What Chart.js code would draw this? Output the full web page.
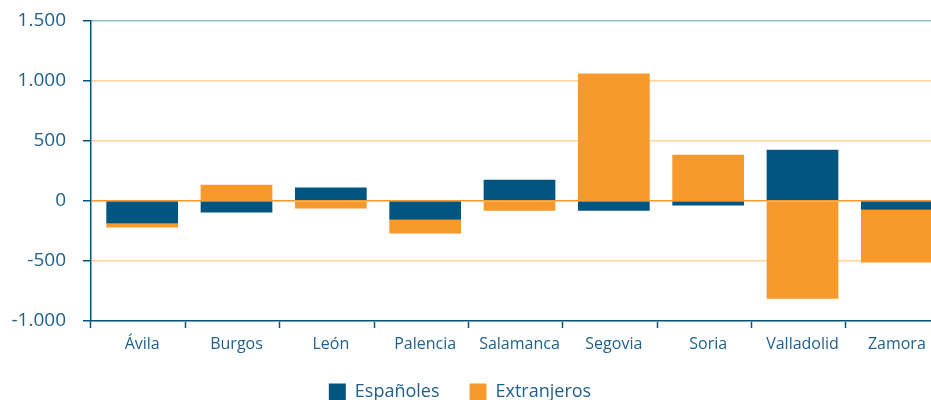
<!DOCTYPE html>
<html>
<head>
<meta charset="utf-8">
<script src="https://cdn.jsdelivr.net/npm/chart.js@4/dist/chart.umd.min.js"></script>
<style>
  html, body { margin: 0; padding: 0; background: #fff; overflow: hidden; }
  #wrap { width: 940px; height: 419px; position: relative; margin-top: -8px; }
</style>
</head>
<body>
<div id="wrap"><canvas id="saldoChart"></canvas></div>
<script>
const provincias = ["Ávila", "Burgos", "León", "Palencia", "Salamanca", "Segovia", "Soria", "Valladolid", "Zamora"];
const espanoles = [-190, -97, 111, -158, 175, -83, -39, 425, -75];
const extranjeros = [-33, 133, -64, -114, -83, 1058, 383, -814, -439];
const yTicks = [-1000, -500, 0, 500, 1000, 1500];

const azul = "#01557F";
const naranja = "#F7992B";
const texto = "#1F5F8B";

// legend sits a little left of centre in the original,
// and bars sit a few px right of the category centre
const ajustes = {
    id: 'ajustes',
    afterLayout: function (chart) {
        chart.legend.left -= 10;
        chart.legend.right -= 10;
    },
    afterDatasetsUpdate: function (chart) {
        chart.data.datasets.forEach(function (ds, i) {
            chart.getDatasetMeta(i).data.forEach(function (bar) { bar.x += 4; });
        });
    }
};

document.addEventListener("DOMContentLoaded", function () {
    const ctx = document.getElementById('saldoChart').getContext('2d');

    new Chart(ctx, {
        type: 'bar',
        data: {
            labels: provincias,
            datasets: [{
                label: "Españoles",
                data: espanoles,
                backgroundColor: azul,
                barPercentage: 0.76,
                categoryPercentage: 1
            }, {
                label: "Extranjeros",
                data: extranjeros,
                backgroundColor: naranja,
                barPercentage: 0.76,
                categoryPercentage: 1
            }]
        },
        plugins: [ajustes],
        options: {
            responsive: true,
            maintainAspectRatio: false,
            animation: false,
            layout: { padding: { top: 2, left: 0, right: 0, bottom: 0 } },
            plugins: {
                tooltip: { enabled: false },
                legend: {
                    position: 'bottom',
                    labels: {
                        color: texto,
                        font: { family: "Open Sans", size: 18 },
                        boxWidth: 17,
                        boxHeight: 17,
                        padding: 30
                    }
                }
            },
            scales: {
                x: {
                    stacked: true,
                    border: { color: azul, width: 1.5 },
                    grid: {
                        offset: true,
                        drawOnChartArea: false,
                        tickColor: azul,
                        tickLength: 7,
                        tickWidth: 1.5
                    },
                    ticks: {
                        color: texto,
                        font: { family: "Open Sans", size: 16 },
                        padding: 7,
                        labelOffset: 4,
                        maxRotation: 0
                    },
                    afterFit: function (scale) { scale.height = 32; }
                },
                y: {
                    stacked: true,
                    min: -1000,
                    max: 1500,
                    border: { color: azul, width: 1.5 },
                    afterBuildTicks: function (scale) {
                        scale.ticks = yTicks.map(v => ({ value: v }));
                    },
                    afterFit: function (scale) { scale.width = 91; },
                    grid: {
                        color: function (c) {
                            if (c.tick && c.tick.value === 1500) return "#9BBBD5";
                            if (c.tick && c.tick.value === 0) return naranja;
                            return "#FDD4A2";
                        },
                        lineWidth: 1.5,
                        tickColor: azul,
                        tickLength: 8,
                        tickWidth: 1.5
                    },
                    ticks: {
                        color: texto,
                        font: { family: "Open Sans", size: 19 },
                        padding: 17,
                        callback: function (v) {
                            return v.toLocaleString('es-ES', { useGrouping: true }).replace(/\s/g, '.');
                        }
                    }
                }
            }
        }
    });
});
</script>
</body>
</html>
